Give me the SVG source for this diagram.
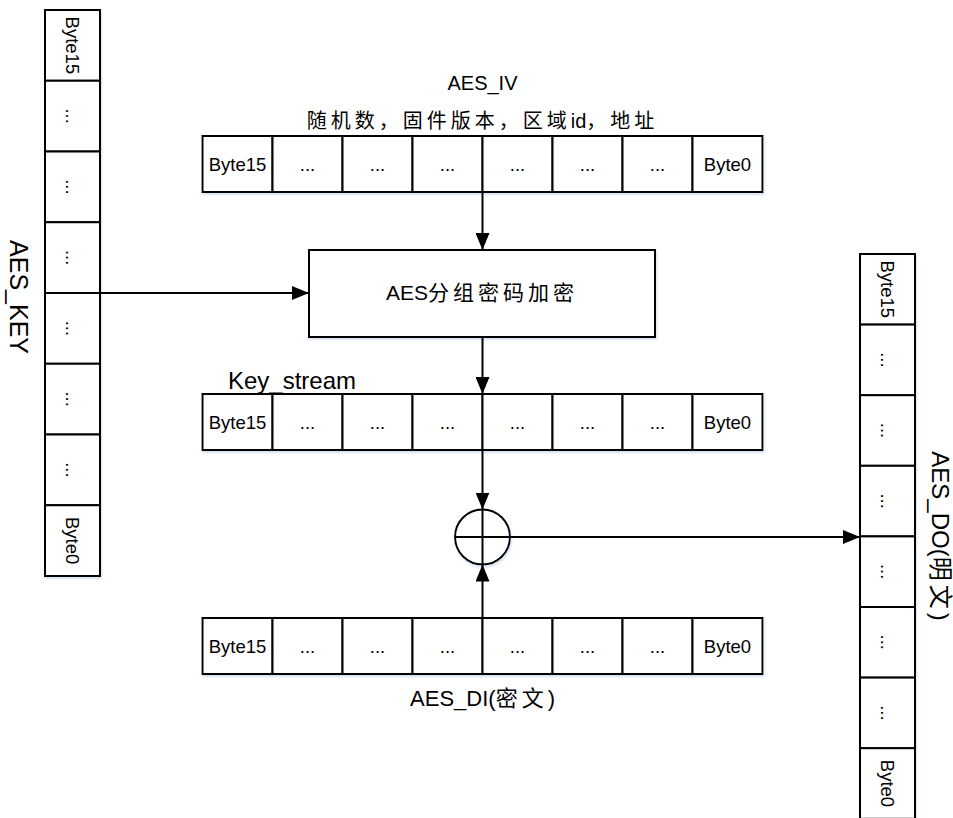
<svg xmlns="http://www.w3.org/2000/svg" width="953" height="818" viewBox="0 0 953 818">
<style>
.cell{fill:#fff;stroke:#000;stroke-width:2}
.t{font-family:"Liberation Sans","Noto Sans CJK SC",sans-serif;fill:#000}
.b{font-size:18.5px;text-anchor:middle}
.lbl{font-size:20px;text-anchor:middle}
.ln{stroke:#000;stroke-width:2;fill:none}
.cj{letter-spacing:4px}
.sh{filter:url(#shadow)}
</style>
<defs>
<marker id="ah" markerWidth="17" markerHeight="14" refX="17" refY="7" orient="auto" markerUnits="userSpaceOnUse"><path d="M0,0 L17,7 L0,14 z" fill="#000"/></marker>
<filter id="shadow" x="-5%" y="-5%" width="110%" height="115%"><feDropShadow dx="1" dy="2" stdDeviation="1.2" flood-color="#b9cde8" flood-opacity="0.6"/></filter>
</defs>
<rect width="953" height="818" fill="#fff"/>

<g id="aes_key">
<g class="sh">
<rect class="cell" x="45" y="10" width="55" height="70.75"/>
<rect class="cell" x="45" y="80.75" width="55" height="70.75"/>
<rect class="cell" x="45" y="151.5" width="55" height="70.75"/>
<rect class="cell" x="45" y="222.25" width="55" height="70.75"/>
<rect class="cell" x="45" y="293" width="55" height="70.75"/>
<rect class="cell" x="45" y="363.75" width="55" height="70.75"/>
<rect class="cell" x="45" y="434.5" width="55" height="70.75"/>
<rect class="cell" x="45" y="505.25" width="55" height="70.75"/>
</g>
<g class="t b">
<text x="72.5" y="51.9" transform="rotate(90 72.5 45.4)">Byte15</text>
<text x="72.5" y="122.6" transform="rotate(90 72.5 116.1)">...</text>
<text x="72.5" y="193.4" transform="rotate(90 72.5 186.9)">...</text>
<text x="72.5" y="264.1" transform="rotate(90 72.5 257.6)">...</text>
<text x="72.5" y="334.9" transform="rotate(90 72.5 328.4)">...</text>
<text x="72.5" y="405.6" transform="rotate(90 72.5 399.1)">...</text>
<text x="72.5" y="476.4" transform="rotate(90 72.5 469.9)">...</text>
<text x="72.5" y="547.1" transform="rotate(90 72.5 540.6)">Byte0</text>
</g>
<text class="t" x="18" y="305.5" font-size="25" text-anchor="middle" transform="rotate(90 18 297)">AES_KEY</text>
</g>

<g id="aes_iv">
<text class="t lbl" x="482.5" y="90">AES_IV</text>
<text class="t lbl" x="482.5" y="128"><tspan class="cj">随机数，固件版本，区域</tspan>id<tspan class="cj">，地址</tspan></text>
<g class="sh">
<rect class="cell" x="202.5" y="136" width="70" height="56"/>
<rect class="cell" x="272.5" y="136" width="70" height="56"/>
<rect class="cell" x="342.5" y="136" width="70" height="56"/>
<rect class="cell" x="412.5" y="136" width="70" height="56"/>
<rect class="cell" x="482.5" y="136" width="70" height="56"/>
<rect class="cell" x="552.5" y="136" width="70" height="56"/>
<rect class="cell" x="622.5" y="136" width="70" height="56"/>
<rect class="cell" x="692.5" y="136" width="70" height="56"/>
</g>
<g class="t b">
<text x="237.5" y="170.5">Byte15</text>
<text x="307.5" y="170.5">...</text>
<text x="377.5" y="170.5">...</text>
<text x="447.5" y="170.5">...</text>
<text x="517.5" y="170.5">...</text>
<text x="587.5" y="170.5">...</text>
<text x="657.5" y="170.5">...</text>
<text x="727.5" y="170.5">Byte0</text>
</g>
</g>

<g id="aes_block">
<rect class="cell sh" x="309" y="250" width="346" height="87"/>
<text class="t" x="482" y="300" font-size="21" text-anchor="middle">AES<tspan class="cj">分组密码加密</tspan></text>
</g>

<g id="key_stream">
<text class="t" x="228" y="389" font-size="24">Key_stream</text>
<g class="sh">
<rect class="cell" x="202.5" y="394" width="70" height="56"/>
<rect class="cell" x="272.5" y="394" width="70" height="56"/>
<rect class="cell" x="342.5" y="394" width="70" height="56"/>
<rect class="cell" x="412.5" y="394" width="70" height="56"/>
<rect class="cell" x="482.5" y="394" width="70" height="56"/>
<rect class="cell" x="552.5" y="394" width="70" height="56"/>
<rect class="cell" x="622.5" y="394" width="70" height="56"/>
<rect class="cell" x="692.5" y="394" width="70" height="56"/>
</g>
<g class="t b">
<text x="237.5" y="428.5">Byte15</text>
<text x="307.5" y="428.5">...</text>
<text x="377.5" y="428.5">...</text>
<text x="447.5" y="428.5">...</text>
<text x="517.5" y="428.5">...</text>
<text x="587.5" y="428.5">...</text>
<text x="657.5" y="428.5">...</text>
<text x="727.5" y="428.5">Byte0</text>
</g>
</g>

<g id="xor">
<circle class="sh" cx="482.5" cy="537" r="27.5" fill="#fff" stroke="#000" stroke-width="2"/>
<line class="ln" x1="455" y1="537" x2="510" y2="537"/>
<line class="ln" x1="482.5" y1="509.5" x2="482.5" y2="564.5"/>
</g>

<g id="aes_di">
<g class="sh">
<rect class="cell" x="202.5" y="618" width="70" height="56"/>
<rect class="cell" x="272.5" y="618" width="70" height="56"/>
<rect class="cell" x="342.5" y="618" width="70" height="56"/>
<rect class="cell" x="412.5" y="618" width="70" height="56"/>
<rect class="cell" x="482.5" y="618" width="70" height="56"/>
<rect class="cell" x="552.5" y="618" width="70" height="56"/>
<rect class="cell" x="622.5" y="618" width="70" height="56"/>
<rect class="cell" x="692.5" y="618" width="70" height="56"/>
</g>
<g class="t b">
<text x="237.5" y="652.5">Byte15</text>
<text x="307.5" y="652.5">...</text>
<text x="377.5" y="652.5">...</text>
<text x="447.5" y="652.5">...</text>
<text x="517.5" y="652.5">...</text>
<text x="587.5" y="652.5">...</text>
<text x="657.5" y="652.5">...</text>
<text x="727.5" y="652.5">Byte0</text>
</g>
<text class="t" x="482.5" y="706" font-size="22" text-anchor="middle">AES_DI(<tspan class="cj">密文</tspan>)</text>
</g>

<g id="aes_do">
<g class="sh">
<rect class="cell" x="860" y="254" width="55" height="70.6"/>
<rect class="cell" x="860" y="324.6" width="55" height="70.6"/>
<rect class="cell" x="860" y="395.2" width="55" height="70.6"/>
<rect class="cell" x="860" y="465.8" width="55" height="70.6"/>
<rect class="cell" x="860" y="536.4" width="55" height="70.6"/>
<rect class="cell" x="860" y="607" width="55" height="70.6"/>
<rect class="cell" x="860" y="677.6" width="55" height="70.6"/>
<rect class="cell" x="860" y="748.2" width="55" height="70.6"/>
</g>
<g class="t b">
<text x="887.5" y="295.8" transform="rotate(90 887.5 289.3)">Byte15</text>
<text x="887.5" y="366.4" transform="rotate(90 887.5 359.9)">...</text>
<text x="887.5" y="437" transform="rotate(90 887.5 430.5)">...</text>
<text x="887.5" y="507.6" transform="rotate(90 887.5 501.1)">...</text>
<text x="887.5" y="578.2" transform="rotate(90 887.5 571.7)">...</text>
<text x="887.5" y="648.8" transform="rotate(90 887.5 642.3)">...</text>
<text x="887.5" y="719.4" transform="rotate(90 887.5 712.9)">...</text>
<text x="887.5" y="790" transform="rotate(90 887.5 783.5)">Byte0</text>
</g>
<text class="t" x="940" y="544.5" font-size="24" text-anchor="middle" transform="rotate(90 940 536)">AES_DO(<tspan class="cj">明文</tspan>)</text>
</g>

<g id="connectors">
<line class="ln" x1="482.5" y1="192" x2="482.5" y2="250" marker-end="url(#ah)"/>
<line class="ln" x1="100" y1="293" x2="309" y2="293" marker-end="url(#ah)"/>
<line class="ln" x1="482.5" y1="337" x2="482.5" y2="394" marker-end="url(#ah)"/>
<line class="ln" x1="482.5" y1="450" x2="482.5" y2="509.5" marker-end="url(#ah)"/>
<line class="ln" x1="482.5" y1="618" x2="482.5" y2="564.5" marker-end="url(#ah)"/>
<line class="ln" x1="510" y1="537" x2="860" y2="537" marker-end="url(#ah)"/>
</g>
</svg>
